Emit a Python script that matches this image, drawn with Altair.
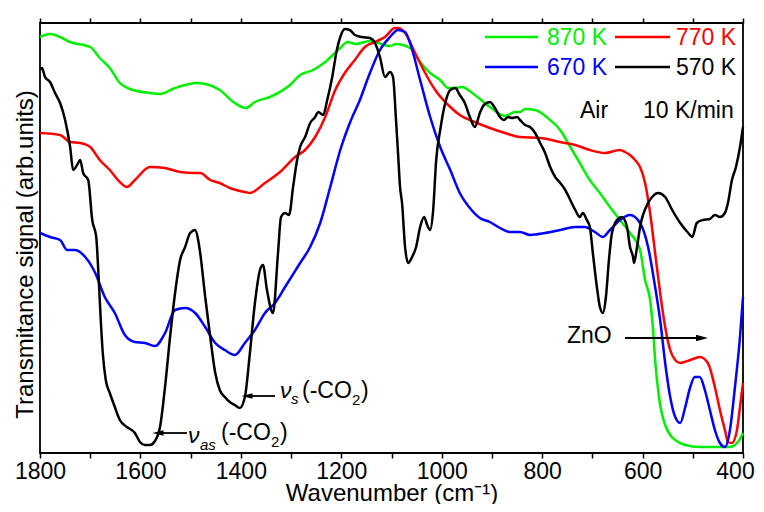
import altair as alt
import pandas as pd

FONT = "Liberation Sans"

series_names = ["870 K", "770 K", "670 K", "570 K"]
series_colors = ["#00ee00", "#ff0000", "#0000ff", "#000000"]

wn_870 = [1800, 1780, 1760, 1740, 1700, 1681, 1661, 1641, 1621, 1581, 1561, 1531, 1487, 1442, 1412, 1390, 1372,
          1342, 1302, 1282, 1256, 1232, 1202, 1187, 1171, 1143, 1103, 1091, 1063, 1043, 1023, 1003, 987, 973,
          960, 934, 904, 874, 854, 844, 834, 814, 784, 764, 744, 725, 705, 685, 665, 645, 625, 605, 595, 585,
          579, 575, 569, 565, 555, 545, 535, 515, 486, 446, 426, 416, 406, 400]
sig_870 = [416, 419, 416, 411, 406, 395, 385, 370, 364, 360, 359, 365, 370, 363, 350, 345, 351,
           356, 368, 378, 383, 391, 405, 411, 409, 412, 407, 409, 405, 391, 380, 373, 365, 365,
           366, 358, 346, 337, 341, 341, 344, 343, 333, 323, 306, 290, 273, 260, 246, 233, 220, 203, 173, 153,
           123, 93, 63, 48, 28, 18, 13, 8, 6, 6, 6, 8, 14, 20]

wn_770 = [1800, 1760, 1740, 1720, 1700, 1681, 1661, 1641, 1627, 1611, 1581, 1551, 1521, 1491, 1481, 1461, 1442,
          1422, 1402, 1392, 1382, 1352, 1322, 1292, 1272, 1252, 1232, 1212, 1193, 1173, 1153, 1133, 1113, 1093,
          1087, 1073, 1053, 1033, 1013, 983, 964, 934, 904, 874, 844, 804, 764, 734, 705, 675, 645, 635, 625,
          615, 605, 595, 585, 575, 565, 555, 545, 535, 525, 505, 486, 470, 456, 446, 436, 430, 422, 412, 406, 400]
sig_770 = [320, 318, 311, 310, 306, 293, 283, 271, 266, 273, 286, 285, 281, 280, 280, 273, 270,
           265, 262, 261, 260, 270, 281, 296, 303, 316, 336, 363, 380, 393, 406, 411, 416, 425,
           425, 420, 400, 380, 363, 346, 338, 331, 325, 320, 316, 315, 311, 308, 303, 300, 303, 301, 298,
           293, 286, 270, 240, 200, 160, 126, 103, 93, 90, 93, 96, 90, 66, 43, 23, 11, 10, 23, 46, 70]

wn_670 = [1800, 1780, 1760, 1746, 1730, 1710, 1690, 1671, 1651, 1631, 1611, 1591, 1571, 1551, 1531, 1511, 1491,
          1471, 1451, 1432, 1412, 1392, 1372, 1352, 1332, 1312, 1282, 1262, 1242, 1222, 1202, 1183, 1163, 1143,
          1123, 1103, 1087, 1073, 1063, 1043, 1023, 1003, 983, 964, 944, 924, 904, 884, 864, 844, 824, 794,
          764, 734, 715, 695, 679, 665, 645, 625, 605, 589, 575, 565, 555, 545, 535, 525, 515, 505, 496, 486,
          476, 466, 456, 446, 436, 426, 416, 406, 400]
sig_670 = [220, 216, 213, 203, 203, 196, 180, 156, 140, 118, 111, 110, 107, 120, 143, 145, 140,
           126, 110, 103, 98, 110, 123, 140, 150, 166, 190, 206, 230, 266, 303, 330, 353, 380,
           403, 416, 423, 421, 410, 373, 336, 306, 283, 260, 245, 235, 231, 225, 221, 221, 218, 220,
           223, 226, 226, 221, 216, 223, 233, 238, 230, 206, 166, 133, 90, 56, 36, 30, 46, 66, 76, 76,
           63, 43, 23, 10, 6, 23, 66, 116, 156]

wn_570 = [1800, 1796, 1790, 1780, 1770, 1760, 1750, 1740, 1734, 1724, 1720, 1714, 1704, 1696, 1688, 1684, 1679,
          1675, 1669, 1661, 1651, 1641, 1627, 1611, 1601, 1591, 1581, 1571, 1561, 1551, 1541, 1531, 1521, 1511,
          1501, 1491, 1485, 1481, 1471, 1461, 1451, 1442, 1432, 1422, 1412, 1402, 1392, 1382, 1372, 1362, 1356,
          1348, 1336, 1326, 1320, 1312, 1304, 1296, 1288, 1282, 1272, 1262, 1252, 1246, 1236, 1228, 1218, 1210,
          1202, 1193, 1183, 1173, 1159, 1143, 1133, 1123, 1113, 1103, 1097, 1091, 1087, 1083, 1079, 1073, 1067,
          1059, 1051, 1043, 1035, 1029, 1023, 1017, 1011, 1003, 993, 983, 973, 964, 954, 944, 934, 924, 916,
          904, 894, 884, 876, 868, 860, 850, 844, 834, 824, 814, 804, 794, 784, 774, 764, 754, 744, 734, 725,
          719, 711, 705, 699, 691, 685, 679, 673, 667, 661, 651, 641, 631, 625, 619, 617, 611, 605, 589, 581,
          569, 555, 541, 525, 509, 501, 492, 480, 466, 456, 446, 436, 430, 422, 414, 406, 400]
sig_570 = [383, 385, 376, 371, 360, 350, 333, 306, 283, 290, 293, 280, 273, 233, 216, 183, 133,
           100, 73, 60, 46, 33, 26, 20, 11, 8, 8, 12, 26, 66, 116, 160, 193, 206,
           220, 223, 213, 200, 156, 116, 80, 63, 56, 51, 48, 45, 56, 100, 150, 183, 188,
           163, 140, 200, 236, 240, 238, 266, 293, 306, 316, 330, 336, 341, 338, 353, 376, 400,
           416, 424, 423, 418, 416, 415, 410, 396, 376, 381, 376, 333, 300, 266, 250, 206, 190,
           196, 206, 226, 236, 228, 223, 243, 293, 323, 350, 363, 365, 358, 350, 336, 326, 340, 348,
           351, 345, 336, 333, 336, 335, 336, 333, 328, 326, 320, 310, 300, 286, 276, 270, 263, 253, 243, 236,
           240, 233, 226, 200, 166, 146, 140, 156, 193, 220, 233, 236, 226, 206, 196, 190, 206, 226, 250, 256,
           260, 256, 243, 230, 220, 216, 230, 233, 234, 238, 236, 240, 250, 273, 286, 306, 326]

x_ticks = [1800, 1700, 1600, 1500, 1400, 1300, 1200, 1100, 1000, 900, 800, 700, 600, 500, 400]

frames = []
for name, w, s in zip(series_names, [wn_870, wn_770, wn_670, wn_570], [sig_870, sig_770, sig_670, sig_570]):
    frames.append(pd.DataFrame({"wn": w, "signal": s, "series": name}))
df = pd.concat(frames, ignore_index=True)

xscale = alt.Scale(domain=[400, 1800], reverse=True, nice=False, zero=False)
yscale = alt.Scale(domain=[0, 430], nice=False, zero=False)

lines = alt.Chart(df).mark_line(strokeWidth=2.5, interpolate="monotone").encode(
    x=alt.X("wn:Q", scale=xscale, axis=alt.Axis(
        orient="bottom", values=x_ticks, format="d",
        labelExpr="datum.value % 200 == 0 ? datum.label : ''",
        labelOffset={"condition": {"test": "datum.value == 400", "value": -8}, "value": 0},
        tickSize=5, tickWidth=1.5, tickColor="black", domain=False, grid=False,
        labelFontSize=23, labelColor="black", labelPadding=2, labelFlush=False,
        title="Wavenumber (cm⁻¹)", titleFontSize=24, titleFontWeight="normal", titleColor="black",
        titleBaseline="alphabetic", titleY=47)),
    y=alt.Y("signal:Q", scale=yscale, axis=alt.Axis(
        ticks=False, labels=False, domain=False, grid=False,
        title="Transmitance signal (arb.units)", titleFontSize=24, titleFontWeight="normal",
        titleColor="black", titleAngle=270, titleBaseline="alphabetic", titleAlign="center",
        titleX=-8, titleY=231)),
    color=alt.Color("series:N", scale=alt.Scale(domain=series_names, range=series_colors), legend=None),
    order=alt.Order("wn:Q", sort="descending"),
)

top_axis = alt.Chart(df).mark_point(opacity=0).encode(
    x=alt.X("wn:Q", scale=xscale, axis=alt.Axis(
        orient="top", values=x_ticks, labels=False, title=None, tickSize=5, tickWidth=1.5,
        tickColor="black", domain=False, grid=False)),
    y=alt.value(0),
)

one = pd.DataFrame({"k": [0]})


def txt(s, x, y, size=23, color="black", style="normal", align="left", baseline="alphabetic"):
    return alt.Chart(one).mark_text(text=s, font=FONT, fontSize=size, color=color, fontStyle=style,
                                    align=align, baseline=baseline).encode(x=alt.value(x), y=alt.value(y))


def seg(x1, x2, y, color="black", width=2.5):
    return alt.Chart(one).mark_rule(color=color, strokeWidth=width).encode(
        x=alt.value(x1), x2=alt.value(x2), y=alt.value(y))


def head(x, y, path, size):
    return alt.Chart(one).mark_point(shape=path, filled=True, size=size, color="black", opacity=1,
                                     strokeWidth=0).encode(x=alt.value(x), y=alt.value(y))


LEFT = "M-1,0L1,-0.5L1,0.5Z"
RIGHT = "M1,0L-1,-0.55L-1,0.55Z"

layers = [lines, top_axis]

# legend
leg_pos = [(445, 498, 507, 14, 22), (575, 630, 636, 14, 22), (445, 498, 507, 44, 52), (575, 630, 636, 44, 52)]
for (lx1, lx2, tx, ly, ty), name, col in zip(leg_pos, series_names, series_colors):
    layers.append(seg(lx1, lx2, ly, color=col, width=2.5))
    layers.append(txt(name, tx, ty, color=col))

layers += [
    txt("Air", 540, 95),
    txt("10 K/min", 603, 95),
    # ZnO
    txt("ZnO", 527, 320),
    seg(585, 662, 315, width=1.8),
    head(662, 315, RIGHT, 144),
    # nu_as
    seg(118, 147, 410, width=1.8),
    head(118, 410, LEFT, 121),
    txt("ν", 148, 420, style="italic"),
    txt("as", 160, 427, size=15, style="italic"),
    txt("(-CO", 181, 417),
    txt("2", 231, 424, size=15),
    txt(")", 240, 417),
    # nu_s
    seg(207, 235, 373, width=1.8),
    head(207, 373, LEFT, 121),
    txt("ν", 240, 375, style="italic"),
    txt("s", 251, 381, size=15, style="italic"),
    txt("(-CO", 262, 375),
    txt("2", 312, 382, size=15),
    txt(")", 321, 375),
]

chart = alt.layer(*layers).resolve_axis(x="independent").properties(
    width=703, height=430,
    autosize=alt.AutoSizeParams(type="none"),
    padding={"left": 32, "top": 15, "right": 13, "bottom": 51},
).configure(font=FONT).configure_view(stroke="black", strokeWidth=1.8)

chart.save("out.html", embed_options={"renderer": "svg", "actions": False})
